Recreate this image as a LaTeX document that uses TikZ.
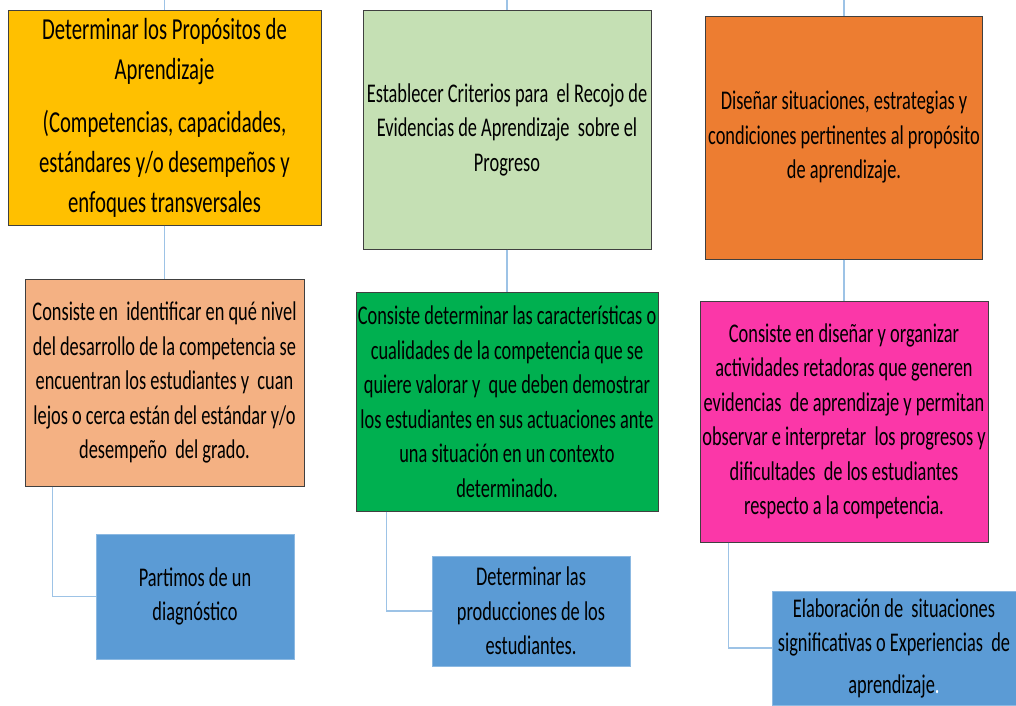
\documentclass[tikz,border=0pt]{standalone}
\usepackage{fontspec}
\setmainfont{Carlito}[FakeStretch=0.68]
\usepackage{tikz}

\definecolor{cYel}{HTML}{FFC000}
\definecolor{cSage}{HTML}{C5E0B4}
\definecolor{cOra}{HTML}{ED7D31}
\definecolor{cPeach}{HTML}{F4B183}
\definecolor{cGreen}{HTML}{00B050}
\definecolor{cPink}{HTML}{FB37A8}
\definecolor{cBlue}{HTML}{5B9BD5}
\definecolor{cLink}{HTML}{9DC3E6}

\newcommand\headfont{\fontsize{30.5}{40}\selectfont}
\newcommand\bodyfont{\fontsize{27}{34.5}\selectfont}

\begin{document}
\begin{tikzpicture}
  [x=1pt,y=-1pt,
   every node/.style={rectangle,draw=black!75,line width=1pt,align=center,inner sep=0pt,font=\bodyfont},
   box/.style 2 args={minimum width=#1pt,minimum height=#2pt},
   leaf/.style={draw=cBlue!70!white,line width=.6pt,fill=cBlue},
   link/.style={draw=cLink,line width=1.4pt}]
  \useasboundingbox (0,0) rectangle (1016,705);
  % top row
  \node[box={313}{215},fill=cYel,font=\headfont] (prop) at (164.5,117.5)
    {Determinar los Propósitos de\\Aprendizaje\\[13pt](Competencias, capacidades,\\estándares y/o desempeños y\\enfoques transversales};
  \node[box={288}{239},fill=cSage] (crit) at (507,129.5)
    {Establecer Criterios para~ el Recojo de\\Evidencias de Aprendizaje~ sobre el\\Progreso};
  \node[box={277}{243},fill=cOra] (dis) at (844,137.5)
    {Diseñar situaciones, estrategias y\\condiciones pertinentes al propósito\\de aprendizaje.};
  % middle row
  \node[box={279}{207},fill=cPeach] (pdesc) at (164.5,382.5)
    {Consiste en~ identificar en qué nivel\\del desarrollo de la competencia se\\encuentran los estudiantes y~ cuan\\lejos o cerca están del estándar y/o\\desempeño~ del grado.};
  \node[box={302}{219},fill=cGreen] (cdesc) at (507,401.5)
    {Consiste determinar las características o\\cualidades de la competencia que se\\quiere valorar y~ que deben demostrar\\los estudiantes en sus actuaciones ante\\una situación en un contexto\\determinado.};
  \node[box={288}{241},fill=cPink] (ddesc) at (844,421.5)
    {Consiste en diseñar y organizar\\actividades retadoras que generen\\evidencias~ de aprendizaje y permitan\\observar e interpretar~ los progresos y\\dificultades~ de los estudiantes\\respecto a la competencia.};
  % bottom row
  \node[box={198}{125},leaf] (diag) at (195,596.5) {Partimos de un\\diagnóstico};
  \node[box={198}{110},leaf] (prod) at (531,611) {Determinar las\\producciones de los\\estudiantes.};
  \node[box={244}{114},leaf] (elab) at (894,648)
    {Elaboración de~ situaciones\\significativas o Experiencias~ de\\[7pt]aprendizaje{\color{white}.}};

  \coordinate (t1) at (164.5,0);
  \coordinate (t2) at (507,0);
  \coordinate (t3) at (844,0);
  \foreach \from/\to in {t1/prop,prop/pdesc,t2/crit,crit/cdesc,t3/dis,dis/ddesc}
    \draw[link] (\from) -- (\to);
  \draw[link] ([xshift=28pt]pdesc.south west) |- (diag.west);
  \draw[link] ([xshift=31pt]cdesc.south west) |- (prod.west);
  \draw[link] ([xshift=29pt]ddesc.south west) |- (elab.west);
\end{tikzpicture}
\end{document}
